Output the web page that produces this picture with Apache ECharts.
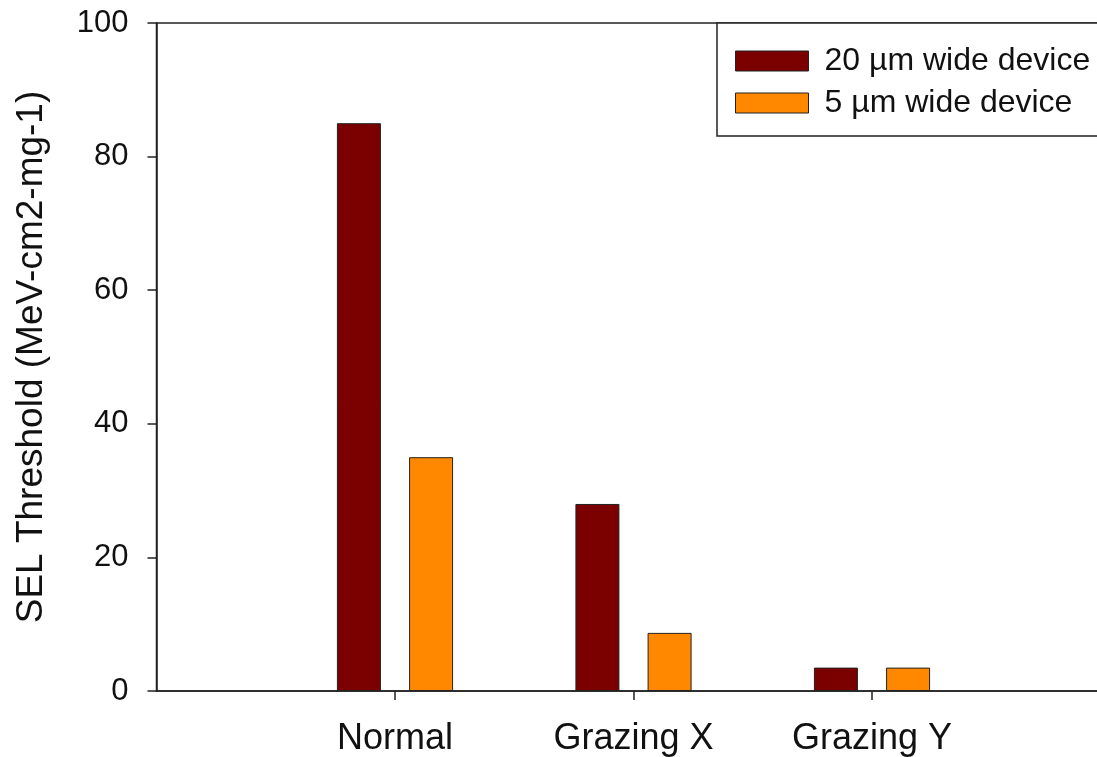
<!DOCTYPE html>
<html>
<head>
<meta charset="utf-8">
<title>SEL Threshold</title>
<script src="https://cdn.jsdelivr.net/npm/echarts@6/dist/echarts.min.js"></script>
<style>
  html, body { margin: 0; padding: 0; background: #fff; overflow: hidden; }
  #chart { width: 1097px; height: 757px; }
</style>
</head>
<body>
<div id="chart"></div>
<script>
// Incidence conditions shown on the horizontal axis
const categories = ['Normal', 'Grazing X', 'Grazing Y'];
// SEL threshold per device width (MeV-cm2-mg-1)
const wide20 = [85, 28, 3.5];
const wide5 = [35, 8.7, 3.5];
const yTicks = [0, 20, 40, 60, 80, 100];

// Pad the category list with blank slots at both ends so each group sits on an integer position
const axisCats = [''].concat(categories, ['']);
const pad = (arr) => [null].concat(arr, [null]);

const font = 'Liberation Sans, Arial, Helvetica, sans-serif';
const chart = echarts.init(document.getElementById('chart'), null, { renderer: 'canvas' });

chart.setOption({
  animation: false,
  backgroundColor: '#ffffff',
  textStyle: { fontFamily: font },
  grid: {
    left: 156.5,
    top: 23,
    height: 668,
    width: 954,
    containLabel: false,
    outerBoundsMode: 'none',
    show: true,
    borderColor: '#222',
    borderWidth: 1.5,
    backgroundColor: 'transparent'
  },
  // Legend frame, running off the right side of the plot
  graphic: [{
    type: 'rect',
    z: 3,
    shape: { x: 717, y: 23, width: 420, height: 113 },
    style: { fill: '#fff', stroke: '#222', lineWidth: 1.5 }
  }],
  legend: {
    orient: 'vertical',
    left: 717,
    top: 23,
    z: 5,
    padding: [22, 10, 21, 18],
    itemWidth: 73,
    itemHeight: 20,
    itemGap: 10,
    icon: 'rect',
    itemStyle: { borderColor: '#222', borderWidth: 1 },
    textStyle: { fontSize: 32, color: '#111', fontFamily: font, lineHeight: 30, padding: [0, 0, 0, 11] },
    data: ['20 µm wide device', '5 µm wide device']
  },
  xAxis: {
    type: 'category',
    data: axisCats,
    boundaryGap: false,
    axisLine: { lineStyle: { color: '#222', width: 1.5 } },
    axisTick: {
      length: 9,
      lineStyle: { color: '#222', width: 1.5 },
      interval: (idx, val) => val !== ''
    },
    axisLabel: {
      fontSize: 36,
      color: '#111',
      margin: 30,
      interval: 0,
      fontFamily: font
    },
    splitLine: { show: false }
  },
  yAxis: {
    type: 'value',
    min: yTicks[0],
    max: yTicks[yTicks.length - 1],
    interval: yTicks[1] - yTicks[0],
    name: 'SEL Threshold (MeV-cm2-mg-1)',
    nameLocation: 'middle',
    nameGap: 106,
    nameTextStyle: { fontSize: 37, color: '#111', fontFamily: font },
    axisLine: { show: true, lineStyle: { color: '#222', width: 1.5 } },
    axisTick: { show: true, length: 9, lineStyle: { color: '#222', width: 1.5 } },
    axisLabel: { fontSize: 31, color: '#111', margin: 28, fontFamily: font },
    splitLine: { show: false }
  },
  series: [
    {
      name: '20 µm wide device',
      type: 'bar',
      data: pad(wide20),
      barWidth: 44,
      barGap: '64%',
      itemStyle: { color: '#7b0000', borderColor: '#222', borderWidth: 1 }
    },
    {
      name: '5 µm wide device',
      type: 'bar',
      data: pad(wide5),
      barWidth: 44,
      barGap: '64%',
      itemStyle: { color: '#ff8800', borderColor: '#222', borderWidth: 1 }
    }
  ]
});
</script>
</body>
</html>
